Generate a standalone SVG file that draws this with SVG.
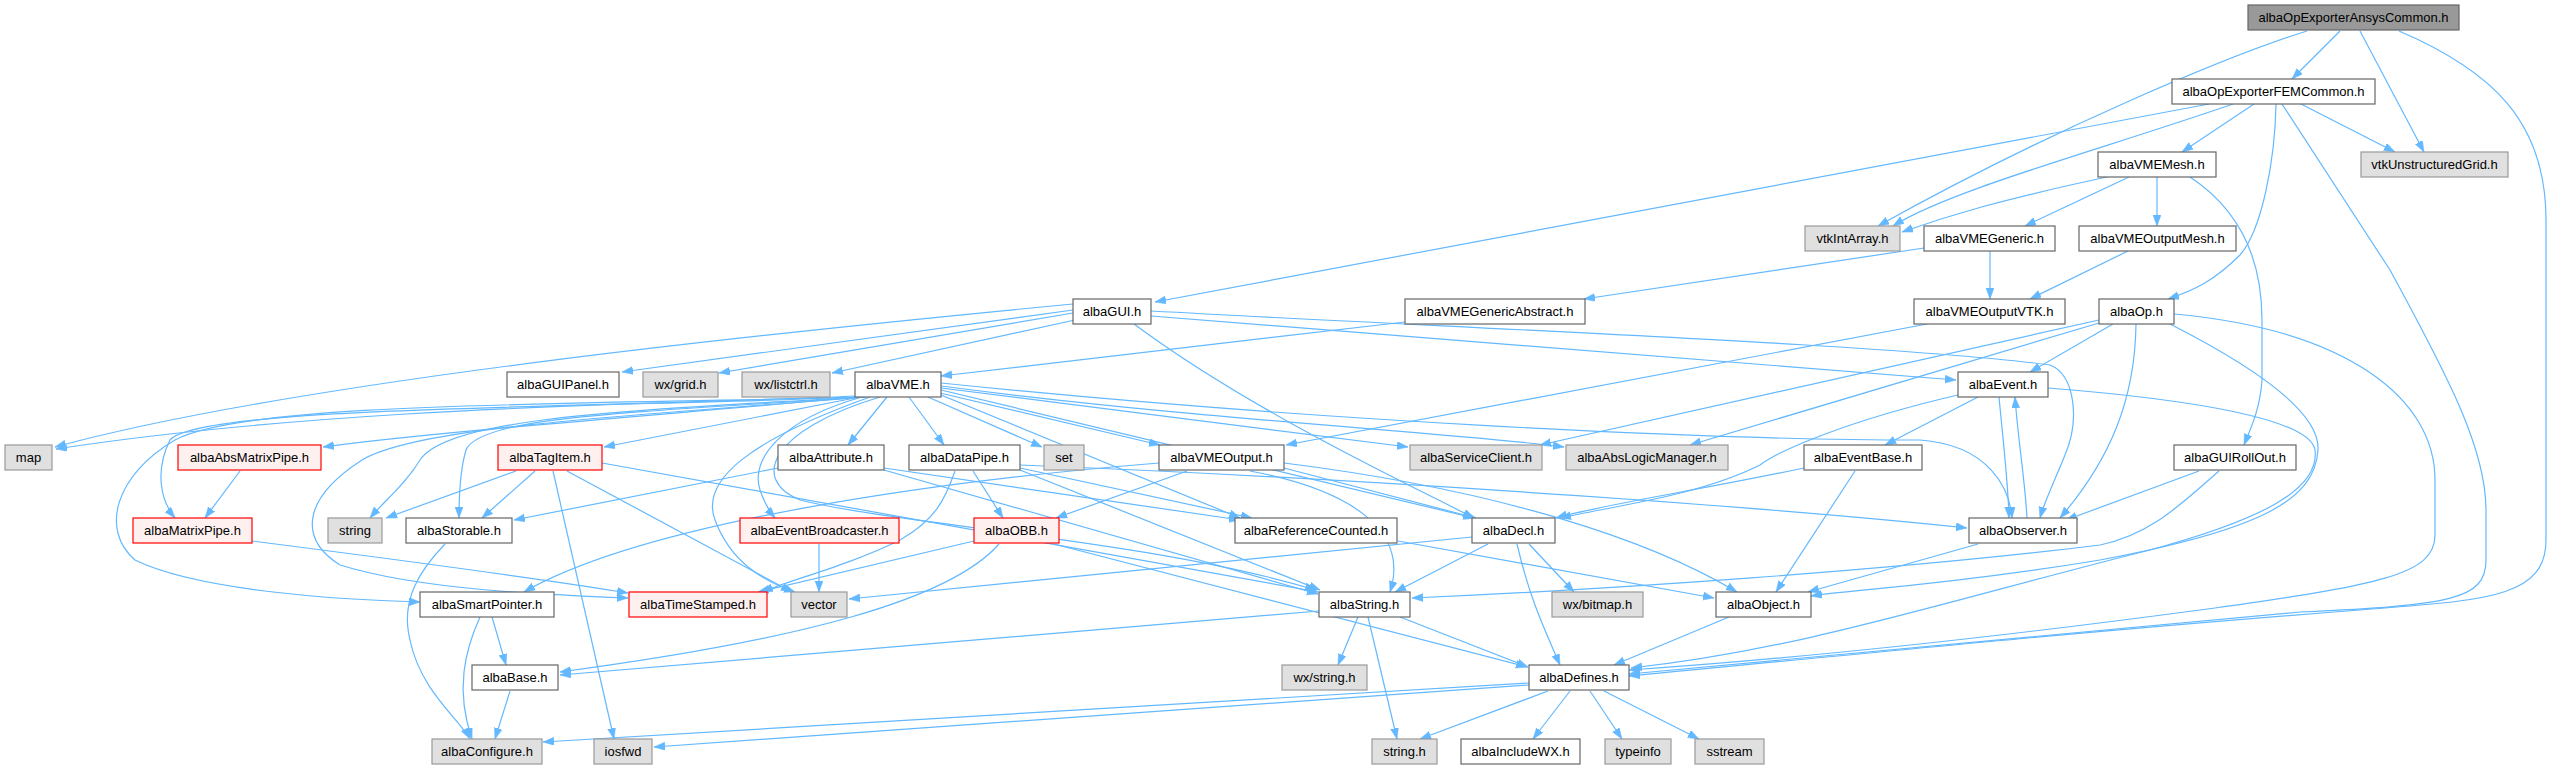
<svg xmlns="http://www.w3.org/2000/svg" width="2551" height="769" viewBox="0 0 2551 769">
<style>
text{font-family:"Liberation Sans",Arial,sans-serif;font-size:13px;text-anchor:middle;fill:#000}
.n rect{fill:#fff;stroke:#666;stroke-width:1.2}
.g rect{fill:#e0e0e0;stroke:#999;stroke-width:1.2}
.r rect{fill:#fff0f0;stroke:#f00;stroke-width:1.2}
.t rect{fill:#999;stroke:#666;stroke-width:1.2}
#edges path{fill:none;stroke:#63b8ff;stroke-width:1.2;marker-end:url(#ah)}
</style>
<defs>
<marker id="ah" markerUnits="userSpaceOnUse" markerWidth="12" markerHeight="9" refX="11" refY="4" orient="auto"><path d="M0,0 L11,4 L0,8 z" fill="#63b8ff" stroke="#63b8ff" stroke-width="0.5"/></marker>
</defs>
<rect width="2551" height="769" fill="#fff"/>
<g id="edges">
<path d="M2340,31 L2292,79"/>
<path d="M2360,31 L2424,152"/>
<path d="M2307,31 C2230,55 2050,130 1878,226"/>
<path d="M2399,31 C2490,70 2546,120 2546,220 L2546,540 C2546,600 2480,600 2360,610 C2100,630 1900,650 1629,676"/>
<path d="M2209,104 L1155,302"/>
<path d="M2233,104 C2100,150 1950,190 1893,226"/>
<path d="M2254,104 L2182,152"/>
<path d="M2301,104 L2395,152"/>
<path d="M2276,104 C2275,160 2262,230 2240,255 C2215,280 2195,290 2168,299"/>
<path d="M2282,104 L2390,270 C2450,380 2486,450 2486,510 L2486,560 C2486,600 2450,605 2300,612 C2100,630 1900,650 1629,674"/>
<path d="M2107,177 C2000,200 1950,215 1902,232"/>
<path d="M2129,177 L2025,226"/>
<path d="M2157,177 L2157,226"/>
<path d="M2190,177 C2240,210 2262,260 2262,320 L2262,380 C2260,410 2250,430 2244,445"/>
<path d="M1924,248 L1584,299"/>
<path d="M1990,251 L1990,299"/>
<path d="M2128,251 L2030,299"/>
<path d="M1405,322 L941,376"/>
<path d="M1927,324 L1286,445"/>
<path d="M2113,324 L2030,372"/>
<path d="M2099,320 L1540,445"/>
<path d="M2099,323 L1690,445"/>
<path d="M2136,324 C2135,400 2110,460 2060,518"/>
<path d="M2170,324 C2280,380 2320,420 2318,450 C2315,500 2260,530 2100,560 C1950,585 1850,590 1811,596"/>
<path d="M2174,314 C2350,330 2435,400 2435,480 L2435,535 C2435,575 2380,585 2200,610 C2050,630 1850,655 1629,670"/>
<path d="M1073,304 C800,330 300,380 55,447"/>
<path d="M1073,310 L622,372"/>
<path d="M1073,313 L719,373"/>
<path d="M1075,320 L832,373"/>
<path d="M1151,316 L1956,380"/>
<path d="M1151,311 C1500,330 1900,345 2050,365 C2075,375 2080,420 2065,455 C2055,480 2045,500 2040,518"/>
<path d="M1134,324 C1250,410 1400,480 1474,518"/>
<path d="M856,396 C700,404 350,404 56,449"/>
<path d="M858,397 C700,412 450,430 323,447"/>
<path d="M860,397 C600,408 200,405 170,440 C155,470 160,500 175,518"/>
<path d="M860,397 L604,447"/>
<path d="M862,397 C650,410 450,415 420,460 C405,485 385,500 370,518"/>
<path d="M864,397 C650,412 480,415 466,450 C460,470 459,500 459,518"/>
<path d="M858,397 C600,405 250,400 175,440 C115,475 100,530 135,560 C200,592 350,600 420,602"/>
<path d="M866,397 C650,415 420,425 362,460 C300,500 300,540 340,565 C420,590 550,595 628,598"/>
<path d="M870,397 C750,440 700,480 715,520 C730,560 760,580 795,592"/>
<path d="M887,397 L848,445"/>
<path d="M909,397 L944,445"/>
<path d="M928,397 L1042,447"/>
<path d="M940,393 L1160,445"/>
<path d="M862,397 C780,420 750,460 760,490 C765,505 770,512 775,518"/>
<path d="M880,397 C770,430 750,480 800,500 C900,525 1150,540 1316,590"/>
<path d="M941,395 L1240,518"/>
<path d="M941,390 L1474,518"/>
<path d="M941,388 L1408,447"/>
<path d="M941,386 C1200,420 1450,432 1564,447"/>
<path d="M941,383 C1300,420 1700,440 1920,440 C1990,445 2010,490 2012,518"/>
<path d="M240,471 L205,518"/>
<path d="M252,541 C400,560 550,580 628,593"/>
<path d="M516,471 L386,518"/>
<path d="M535,471 L482,518"/>
<path d="M553,471 L614,739"/>
<path d="M567,471 L792,592"/>
<path d="M602,463 L1318,592"/>
<path d="M778,468 L514,520"/>
<path d="M884,468 L1240,520"/>
<path d="M884,470 L1318,594"/>
<path d="M973,471 L1003,518"/>
<path d="M955,471 C945,500 935,520 900,540 C850,565 790,580 762,592"/>
<path d="M1020,468 L1252,518"/>
<path d="M1020,470 L1320,590"/>
<path d="M1020,465 C1400,480 1800,510 1967,528"/>
<path d="M1187,471 L1056,518"/>
<path d="M1159,463 C950,480 650,520 524,592"/>
<path d="M1284,468 L1476,518"/>
<path d="M1250,471 C1350,490 1410,530 1390,592"/>
<path d="M1284,463 C1500,490 1650,540 1737,592"/>
<path d="M1978,397 L1885,445"/>
<path d="M1999,397 C2003,440 2008,480 2009,518"/>
<path d="M2027,518 C2025,480 2018,440 2015,397"/>
<path d="M1958,395 C1850,420 1780,450 1760,465 C1700,495 1620,505 1560,518"/>
<path d="M2048,388 C2200,400 2310,420 2315,450 C2320,490 2260,520 2150,550 C1950,600 1800,650 1631,668"/>
<path d="M1855,471 L1776,592"/>
<path d="M1804,468 C1700,490 1600,505 1556,518"/>
<path d="M2199,471 L2066,520"/>
<path d="M2219,471 C2180,505 2150,535 2100,545 C1900,570 1600,590 1412,598"/>
<path d="M1978,544 L1808,592"/>
<path d="M819,544 L819,592"/>
<path d="M974,541 L758,592"/>
<path d="M999,544 C950,600 800,640 560,672"/>
<path d="M1054,544 L1527,667"/>
<path d="M445,544 C420,570 400,600 410,640 C420,690 460,720 470,739"/>
<path d="M480,617 C465,650 455,690 472,739"/>
<path d="M492,617 L506,665"/>
<path d="M510,691 L495,739"/>
<path d="M1398,541 L1714,598"/>
<path d="M1472,537 L849,599"/>
<path d="M1488,544 L1395,592"/>
<path d="M1529,544 L1574,592"/>
<path d="M1517,544 C1530,600 1545,630 1560,665"/>
<path d="M1358,617 L1338,665"/>
<path d="M1368,617 L1397,739"/>
<path d="M1400,617 L1528,667"/>
<path d="M1319,611 L560,675"/>
<path d="M1729,617 L1614,665"/>
<path d="M1548,691 L1420,739"/>
<path d="M1570,691 L1533,739"/>
<path d="M1590,691 L1622,739"/>
<path d="M1604,691 L1699,739"/>
<path d="M1529,683 L543,742"/>
<path d="M1529,685 L654,747"/>
</g>
<g id="n0" class="t"><rect x="2248" y="5" width="211" height="25"/><text x="2353.5" y="22">albaOpExporterAnsysCommon.h</text></g>
<g id="n1" class="n"><rect x="2172" y="79" width="203" height="25"/><text x="2273.5" y="96">albaOpExporterFEMCommon.h</text></g>
<g id="n2" class="n"><rect x="2098" y="152" width="118" height="25"/><text x="2157" y="169">albaVMEMesh.h</text></g>
<g id="n3" class="g"><rect x="2361" y="152" width="147" height="25"/><text x="2434.5" y="169">vtkUnstructuredGrid.h</text></g>
<g id="n4" class="g"><rect x="1805" y="226" width="95" height="25"/><text x="1852.5" y="243">vtkIntArray.h</text></g>
<g id="n5" class="n"><rect x="1924" y="226" width="131" height="25"/><text x="1989.5" y="243">albaVMEGeneric.h</text></g>
<g id="n6" class="n"><rect x="2079" y="226" width="157" height="25"/><text x="2157.5" y="243">albaVMEOutputMesh.h</text></g>
<g id="n7" class="n"><rect x="1073" y="299" width="78" height="25"/><text x="1112" y="316">albaGUI.h</text></g>
<g id="n8" class="n"><rect x="1405" y="299" width="180" height="25"/><text x="1495" y="316">albaVMEGenericAbstract.h</text></g>
<g id="n9" class="n"><rect x="1914" y="299" width="151" height="25"/><text x="1989.5" y="316">albaVMEOutputVTK.h</text></g>
<g id="n10" class="n"><rect x="2099" y="299" width="75" height="25"/><text x="2136.5" y="316">albaOp.h</text></g>
<g id="n11" class="n"><rect x="507" y="372" width="112" height="25"/><text x="563" y="389">albaGUIPanel.h</text></g>
<g id="n12" class="g"><rect x="643" y="372" width="75" height="25"/><text x="680.5" y="389">wx/grid.h</text></g>
<g id="n13" class="g"><rect x="742" y="372" width="88" height="25"/><text x="786" y="389">wx/listctrl.h</text></g>
<g id="n14" class="n"><rect x="855" y="372" width="86" height="25"/><text x="898" y="389">albaVME.h</text></g>
<g id="n15" class="n"><rect x="1958" y="372" width="90" height="25"/><text x="2003" y="389">albaEvent.h</text></g>
<g id="n16" class="g"><rect x="5" y="445" width="47" height="25"/><text x="28.5" y="462">map</text></g>
<g id="n17" class="r"><rect x="178" y="445" width="143" height="25"/><text x="249.5" y="462">albaAbsMatrixPipe.h</text></g>
<g id="n18" class="r"><rect x="498" y="445" width="104" height="25"/><text x="550" y="462">albaTagItem.h</text></g>
<g id="n19" class="n"><rect x="778" y="445" width="106" height="25"/><text x="831" y="462">albaAttribute.h</text></g>
<g id="n20" class="n"><rect x="909" y="445" width="111" height="25"/><text x="964.5" y="462">albaDataPipe.h</text></g>
<g id="n21" class="g"><rect x="1044" y="445" width="40" height="25"/><text x="1064" y="462">set</text></g>
<g id="n22" class="n"><rect x="1159" y="445" width="125" height="25"/><text x="1221.5" y="462">albaVMEOutput.h</text></g>
<g id="n23" class="g"><rect x="1410" y="445" width="132" height="25"/><text x="1476" y="462">albaServiceClient.h</text></g>
<g id="n24" class="g"><rect x="1566" y="445" width="162" height="25"/><text x="1647" y="462">albaAbsLogicManager.h</text></g>
<g id="n25" class="n"><rect x="1804" y="445" width="118" height="25"/><text x="1863" y="462">albaEventBase.h</text></g>
<g id="n26" class="n"><rect x="2174" y="445" width="122" height="25"/><text x="2235" y="462">albaGUIRollOut.h</text></g>
<g id="n27" class="r"><rect x="133" y="518" width="119" height="25"/><text x="192.5" y="535">albaMatrixPipe.h</text></g>
<g id="n28" class="g"><rect x="328" y="518" width="54" height="25"/><text x="355" y="535">string</text></g>
<g id="n29" class="n"><rect x="406" y="518" width="106" height="25"/><text x="459" y="535">albaStorable.h</text></g>
<g id="n30" class="r"><rect x="740" y="518" width="159" height="25"/><text x="819.5" y="535">albaEventBroadcaster.h</text></g>
<g id="n31" class="r"><rect x="974" y="518" width="85" height="25"/><text x="1016.5" y="535">albaOBB.h</text></g>
<g id="n32" class="n"><rect x="1235" y="518" width="162" height="25"/><text x="1316" y="535">albaReferenceCounted.h</text></g>
<g id="n33" class="n"><rect x="1472" y="518" width="83" height="25"/><text x="1513.5" y="535">albaDecl.h</text></g>
<g id="n34" class="n"><rect x="1969" y="518" width="108" height="25"/><text x="2023" y="535">albaObserver.h</text></g>
<g id="n35" class="n"><rect x="420" y="592" width="134" height="25"/><text x="487" y="609">albaSmartPointer.h</text></g>
<g id="n36" class="r"><rect x="629" y="592" width="138" height="25"/><text x="698" y="609">albaTimeStamped.h</text></g>
<g id="n37" class="g"><rect x="791" y="592" width="56" height="25"/><text x="819" y="609">vector</text></g>
<g id="n38" class="n"><rect x="1319" y="592" width="91" height="25"/><text x="1364.5" y="609">albaString.h</text></g>
<g id="n39" class="g"><rect x="1552" y="592" width="91" height="25"/><text x="1597.5" y="609">wx/bitmap.h</text></g>
<g id="n40" class="n"><rect x="1716" y="592" width="95" height="25"/><text x="1763.5" y="609">albaObject.h</text></g>
<g id="n41" class="n"><rect x="472" y="665" width="86" height="25"/><text x="515" y="682">albaBase.h</text></g>
<g id="n42" class="g"><rect x="1282" y="665" width="85" height="25"/><text x="1324.5" y="682">wx/string.h</text></g>
<g id="n43" class="n"><rect x="1529" y="665" width="100" height="25"/><text x="1579" y="682">albaDefines.h</text></g>
<g id="n44" class="g"><rect x="432" y="739" width="110" height="25"/><text x="487" y="756">albaConfigure.h</text></g>
<g id="n45" class="g"><rect x="594" y="739" width="58" height="25"/><text x="623" y="756">iosfwd</text></g>
<g id="n46" class="g"><rect x="1372" y="739" width="65" height="25"/><text x="1404.5" y="756">string.h</text></g>
<g id="n47" class="n"><rect x="1461" y="739" width="119" height="25"/><text x="1520.5" y="756">albaIncludeWX.h</text></g>
<g id="n48" class="g"><rect x="1605" y="739" width="66" height="25"/><text x="1638" y="756">typeinfo</text></g>
<g id="n49" class="g"><rect x="1695" y="739" width="69" height="25"/><text x="1729.5" y="756">sstream</text></g>
</svg>
